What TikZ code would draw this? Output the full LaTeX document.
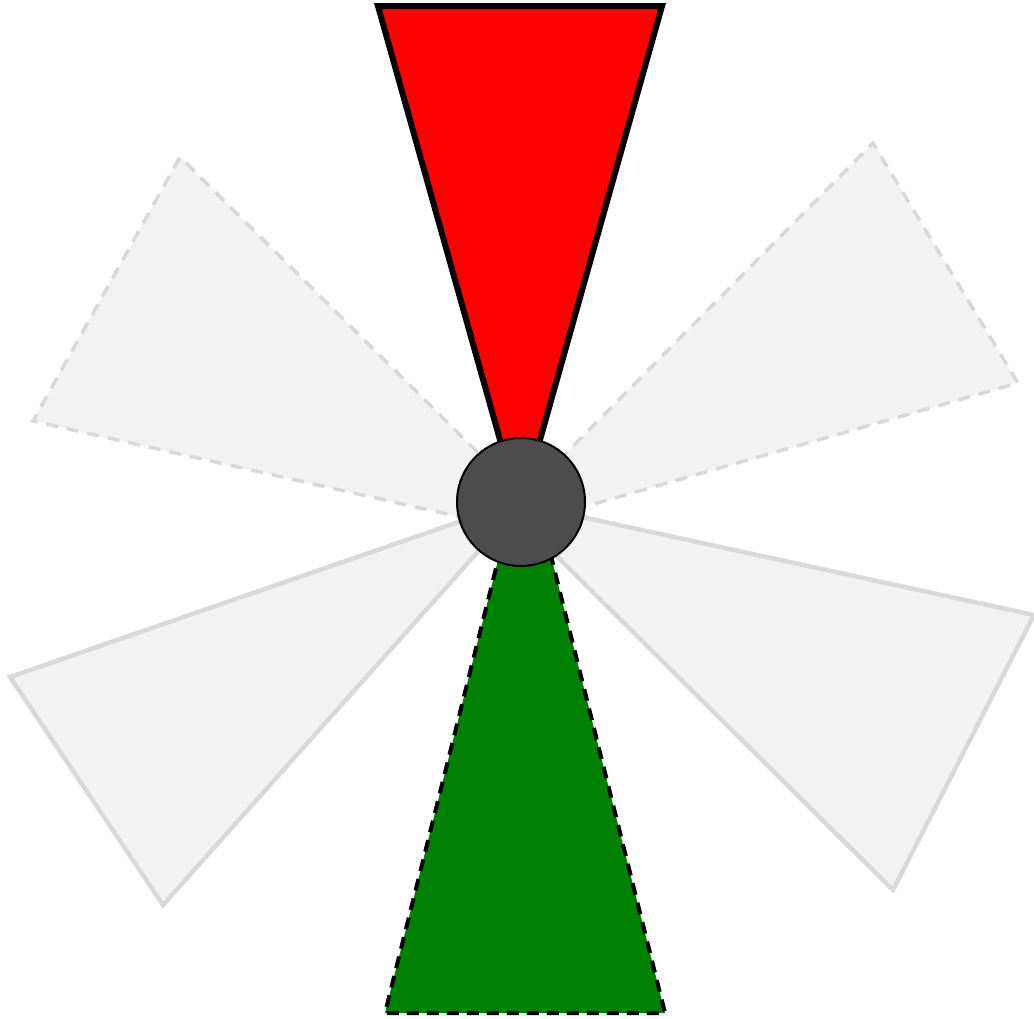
\documentclass[tikz,border=0pt]{standalone}
\usepackage{tikz}
\usetikzlibrary{positioning}
\begin{document}
\begin{tikzpicture}[
					x=1pt, y=-1pt,
					blade/.style={
							fill=gray!10,
							draw=gray!30,
							line width=4.5pt
						},
					ghost/.style={
							blade,
							line width=3.5pt,
							dash pattern=on 12pt off 9pt
						},
					hub/.style={
							circle,
							draw=black,
							line width=2pt,
							fill=black!70,
							minimum size=128pt,
							inner sep=0pt
						}
				]
				\useasboundingbox (0, 0) rectangle (1034, 1018);

				% faded blades
				\draw[ghost] (567, 541) -- (180, 157) -- (33, 421) -- cycle;
				\draw[ghost] (485, 535) -- (873, 143) -- (1018, 383) -- cycle;
				\draw[blade] (525, 499) -- (10, 677) -- (163, 905) -- cycle;
				\draw[blade] (499, 499) -- (1034, 615) -- (893, 890) -- cycle;

				% active blades
				\draw[fill=red, draw=black, line width=6pt] (520, 511) -- (378, 6) -- (662, 6) -- cycle;
				\draw[fill=green!50!black, draw=black, line width=4pt, dash pattern=on 12pt off 8pt]
				(525, 452) -- (385, 1013) -- (665, 1013) -- cycle;

				\node[hub] (center) at (521, 502) {};
		\end{tikzpicture}
\end{document}
